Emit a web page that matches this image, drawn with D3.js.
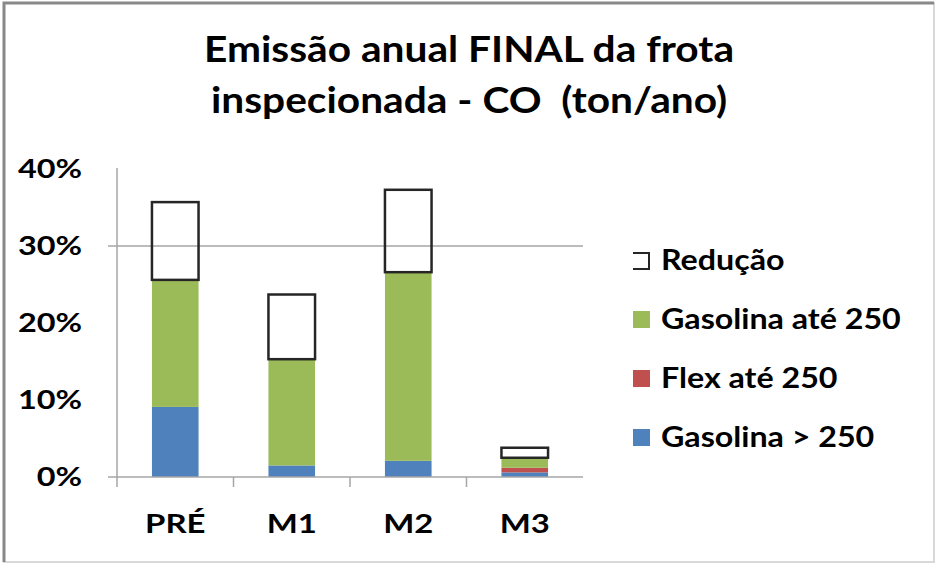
<!DOCTYPE html>
<html>
<head>
<meta charset="utf-8">
<script src="https://cdnjs.cloudflare.com/ajax/libs/d3/7.8.5/d3.min.js"></script>
<style>
  body { margin: 0; background: #fff; }
  text { font-family: Lato, "Open Sans", sans-serif; font-weight: 700; fill: #000; white-space: pre; }
</style>
</head>
<body>
<div class="chart"></div>
<script>
var categories = ["PRÉ", "M1", "M2", "M3"];
var gasolinaMaior250 = [0.091, 0.015, 0.021, 0.006];
var flexAte250 = [0, 0, 0, 0.006];
var gasolinaAte250 = [0.165, 0.138, 0.245, 0.013];
var reducao = [0.101, 0.084, 0.107, 0.013];
var yTicks = [0, 0.1, 0.2, 0.3, 0.4];
var titleLines = ["Emissão anual FINAL da frota", "inspecionada - CO  (ton/ano)"];

var series = [
	{ name: "Gasolina > 250", values: gasolinaMaior250, color: "#4f81bd" },
	{ name: "Flex até 250", values: flexAte250, color: "#c0504d" },
	{ name: "Gasolina até 250", values: gasolinaAte250, color: "#9bbb59" },
	{ name: "Redução", values: reducao, color: "none" }
];

var width = 936, height = 563;
var margin = { top: 169, right: 353, bottom: 83, left: 117 };

// the original picture is a bit wider than tall, so text is stretched sideways
function stretch(sel, sx) {
	sel.each(function () {
		var t = d3.select(this);
		var tx = +t.attr('x') || 0, ty = +t.attr('y') || 0;
		t.attr('x', 0).attr('y', 0)
			.attr('transform', 'translate(' + tx + ',' + ty + ') scale(' + sx + ',1)');
	});
}

var svg = d3.select('.chart')
	.append('svg')
	.attr('width', width)
	.attr('height', height);

// frame
svg.append('rect')
	.attr('x', 4).attr('y', 3)
	.attr('width', width - 6).attr('height', height - 4)
	.attr('fill', 'none')
	.attr('stroke', '#d9d9d9')
	.attr('stroke-width', 2);
svg.append('path')
	.attr('d', 'M4,' + (height - 1) + 'V3H' + (width - 2))
	.attr('fill', 'none')
	.attr('stroke', '#888')
	.attr('stroke-width', 3);

// title
var title = svg.append('g').attr('class', 'title');
title.selectAll('text')
	.data(titleLines)
	.enter().append('text')
	.attr('x', 469)
	.attr('y', function (d, i) { return 62 + i * 51; })
	.attr('text-anchor', 'middle')
	.style('font-size', '36px')
	.text(function (d) { return d; })
	.call(stretch, 1.13);

var x = d3.scaleBand()
	.domain(categories)
	.range([margin.left, width - margin.right])
	.paddingInner(0.6)
	.paddingOuter(0.3);

var y = d3.scaleLinear()
	.domain([0, 0.4])
	.range([height - margin.bottom - 3, margin.top]);

var g = svg.append('g');

// gridline at 30% only (as in the picture)
g.append('line')
	.attr('x1', margin.left - 9).attr('x2', width - margin.right)
	.attr('y1', y(0.3)).attr('y2', y(0.3))
	.attr('stroke', '#a6a6a6').attr('stroke-width', 1.5);

// y axis
var yAxis = d3.axisLeft(y)
	.tickValues(yTicks)
	.tickFormat(d3.format('.0%'))
	.tickSize(0)
	.tickPadding(35);

var yg = g.append('g')
	.attr('class', 'y axis')
	.attr('transform', 'translate(' + margin.left + ',0)')
	.call(yAxis);
yg.select('.domain').remove();
yg.selectAll('text')
	.style('font-size', '27px')
	.style('font-family', 'Lato, sans-serif')
	.call(stretch, 1.2);

g.append('line')
	.attr('x1', margin.left).attr('x2', margin.left)
	.attr('y1', y(0.4) - 1).attr('y2', y(0) + 10)
	.attr('stroke', '#a6a6a6').attr('stroke-width', 1.5);

// stacked bars
var stackData = categories.map(function (c, i) {
	var row = { cat: c };
	series.forEach(function (s) { row[s.name] = s.values[i]; });
	return row;
});
var stack = d3.stack().keys(series.map(function (s) { return s.name; }));
var layers = stack(stackData);

g.selectAll('.layer')
	.data(layers)
	.enter().append('g')
	.attr('class', 'layer')
	.each(function (layer, li) {
		var s = series[li];
		d3.select(this).selectAll('rect')
			.data(layer.filter(function (d) { return d[1] - d[0] > 0; }))
			.enter().append('rect')
			.attr('x', function (d) { return x(d.data.cat); })
			.attr('width', x.bandwidth())
			.attr('y', function (d) { return y(d[1]); })
			.attr('height', function (d) { return y(d[0]) - y(d[1]); })
			.attr('fill', s.color)
			.attr('stroke', s.color === 'none' ? '#262626' : 'none')
			.attr('stroke-width', 2.5);
	});

// x axis
var xg = g.append('g')
	.attr('class', 'x axis')
	.attr('transform', 'translate(0,' + y(0) + ')');
xg.append('line')
	.attr('x1', margin.left - 9).attr('x2', width - margin.right)
	.attr('stroke', '#a6a6a6').attr('stroke-width', 1.5);
xg.selectAll('.sep')
	.data(categories.slice(1))
	.enter().append('line')
	.attr('class', 'sep')
	.attr('x1', function (d) { return x(d) - x.step() * x.paddingInner() / 2; })
	.attr('x2', function (d) { return x(d) - x.step() * x.paddingInner() / 2; })
	.attr('y1', 0).attr('y2', 10)
	.attr('stroke', '#a6a6a6').attr('stroke-width', 1.5);
xg.selectAll('.lab')
	.data(categories)
	.enter().append('text')
	.attr('class', 'lab')
	.attr('x', function (d) { return x(d) + x.bandwidth() / 2; })
	.attr('y', 56)
	.attr('text-anchor', 'middle')
	.style('font-size', '27px')
	.text(function (d) { return d; })
	.call(stretch, 1.22);

// legend
var legendItems = series.slice().reverse();
var legend = svg.append('g').attr('class', 'legend')
	.attr('transform', 'translate(633,260)');
var item = legend.selectAll('g')
	.data(legendItems)
	.enter().append('g')
	.attr('transform', function (d, i) { return 'translate(0,' + (i * 59) + ')'; });
item.each(function (d) {
	var sel = d3.select(this);
	if (d.color === 'none') {
		sel.append('path')
			.attr('d', 'M0,-7H16V9H0')
			.attr('fill', 'none')
			.attr('stroke', '#262626')
			.attr('stroke-width', 2);
	} else {
		sel.append('rect')
			.attr('x', 0).attr('y', -8)
			.attr('width', 17).attr('height', 17)
			.attr('fill', d.color);
	}
});
item.append('text')
	.attr('x', 28)
	.attr('y', 10)
	.style('font-size', '28px')
	.text(function (d) { return d.name; })
	.call(stretch, 1.15);
</script>
</body>
</html>
